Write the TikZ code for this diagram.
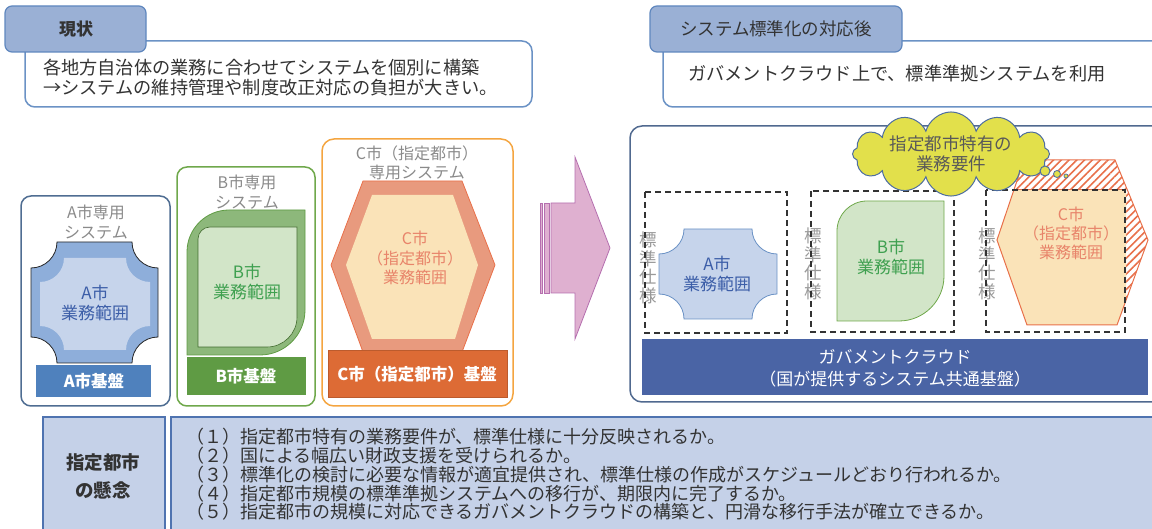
\documentclass[tikz,border=0pt]{standalone}
\usepackage{fontspec}
\setmainfont{Noto Sans CJK JP}
\usetikzlibrary{shapes.symbols,patterns.meta}

\definecolor{tabfill}{HTML}{9AB0D5}
\definecolor{tabline}{HTML}{5F87BE}
\definecolor{boxline}{HTML}{6B92C5}
\definecolor{frameA}{HTML}{4F6D92}
\definecolor{frameB}{HTML}{6FA84B}
\definecolor{frameC}{HTML}{F4A540}
\definecolor{frameR}{HTML}{50698F}
\definecolor{blueout}{HTML}{8EAEDA}
\definecolor{bluein}{HTML}{C6D4EB}
\definecolor{bluetext}{HTML}{3C5EA8}
\definecolor{baseA}{HTML}{4F81BD}
\definecolor{greenout}{HTML}{8DB87B}
\definecolor{greenin}{HTML}{D2E5C8}
\definecolor{greentext}{HTML}{3FA050}
\definecolor{baseB}{HTML}{5F9B44}
\definecolor{orangeout}{HTML}{E89A7E}
\definecolor{orangein}{HTML}{FAE3B8}
\definecolor{orangetext}{HTML}{E8846A}
\definecolor{orangeline}{HTML}{E8704A}
\definecolor{baseC}{HTML}{DD6B35}
\definecolor{cloudbase}{HTML}{4A64A5}
\definecolor{arrowfill}{HTML}{DFB0D0}
\definecolor{arrowline}{HTML}{B56FAF}
\definecolor{cloudfill}{HTML}{E2E04B}
\definecolor{cloudline}{HTML}{4D6DA0}
\definecolor{worryfill}{HTML}{C5D1E8}
\definecolor{worryline}{HTML}{4F73B0}
\definecolor{fadetext}{HTML}{8A8A8A}

% cross with concave corners: x0,y0,x1,y1,r
\newcommand{\cutcross}[5]{(#1+#5,#2) -- (#3-#5,#2)
  .. controls (#3-#5,#2+0.552*#5) and (#3-0.552*#5,#2+#5) .. (#3,#2+#5) -- (#3,#4-#5)
  .. controls (#3-0.552*#5,#4-#5) and (#3-#5,#4-0.552*#5) .. (#3-#5,#4) -- (#1+#5,#4)
  .. controls (#1+#5,#4-0.552*#5) and (#1+0.552*#5,#4-#5) .. (#1,#4-#5) -- (#1,#2+#5)
  .. controls (#1+0.552*#5,#2+#5) and (#1+#5,#2+0.552*#5) .. (#1+#5,#2) -- cycle}
% box with round top left and bottom right: x0,y0,x1,y1,r1,r2
\newcommand{\leafbox}[6]{(#1,#4) -- (#1,#2+#5)
  .. controls (#1,#2+0.448*#5) and (#1+0.448*#5,#2) .. (#1+#5,#2) -- (#3,#2) -- (#3,#4-#6)
  .. controls (#3,#4-0.448*#6) and (#3-0.448*#6,#4) .. (#3-#6,#4) -- cycle}

\tikzset{
  txt/.style={font=\fontsize{18.2}{20}\selectfont, text=black!80, inner sep=0pt},
  tabbox/.style={fill=tabfill, draw=tabline, line width=1.2pt, rounded corners=7pt},
  infobox/.style={fill=white, draw=boxline, line width=1.5pt, rounded corners=10pt},
  fade/.style={font=\fontsize{16}{19.5}\selectfont, text=fadetext, align=center, inner sep=0pt},
  scope label/.style={font=\fontsize{17}{19.5}\selectfont, align=center, inner sep=0pt},
  base label/.style={font=\bfseries\fontsize{16.5}{20}\selectfont, text=white, align=center, inner sep=0pt},
  specbox/.style={draw=black!80, line width=1.1pt, dash pattern=on 6pt off 4pt},
  spec/.style={font=\fontsize{17.5}{18.5}\selectfont, text=black!40, align=center, inner sep=0pt},
}

\begin{document}
\begin{tikzpicture}[x=1pt,y=-1pt]
  \useasboundingbox (0,0) rectangle (1152,529);

  % top left: current state
  \draw [infobox] (25,41) rectangle (532,107);
  \draw [tabbox] (5,6) rectangle (146,52);
  \node (now) [txt, font=\bfseries\fontsize{17}{20}\selectfont] at (76,29) {現状};
  \node (nowtext) [txt, anchor=west, align=left] at (43,78) {各地方自治体の業務に合わせてシステムを個別に構築\\→システムの維持管理や制度改正対応の負担が大きい。};

  % top right: after standardisation
  \draw [infobox] (663,41) rectangle (1175,107);
  \draw [tabbox] (650,6) rectangle (902,52);
  \node (after) [txt, font=\fontsize{17.5}{20}\selectfont] at (776,29) {システム標準化の対応後};
  \node (aftertext) [txt, anchor=west] at (688,74) {ガバメントクラウド上で、標準準拠システムを利用};

  % city A
  \draw [frameA, line width=1.5pt, rounded corners=10pt] (21,196) rectangle (170,406);
  \node (Asys) [fade] at (96,222) {A市専用\\システム};
  \draw [fill=blueout, draw=black!85, line width=0.8pt] \cutcross{31}{242}{158}{363}{26};
  \fill [bluein] \cutcross{40}{258}{150}{350}{24};
  \node (Ascope) [scope label, text=bluetext] at (95,303) {A市\\業務範囲};
  \fill [baseA] (36,365) rectangle (151,397);
  \node (Abase) [base label] at (94,381) {A市基盤};

  % city B
  \draw [frameB, line width=1.5pt, rounded corners=10pt] (177,167) rectangle (315,406);
  \node (Bsys) [fade] at (247,192) {B市専用\\システム};
  \draw [fill=greenout, draw=baseB, line width=0.8pt] \leafbox{187}{210}{305}{355}{42}{45};
  \draw [fill=greenin, draw=baseB!70!black, line width=0.6pt] \leafbox{198}{227}{297}{347}{12}{30};
  \node (Bscope) [scope label, text=greentext] at (247,282) {B市\\業務範囲};
  \fill [baseB] (187,357) rectangle (306,395);
  \node (Bbase) [base label] at (246,376) {B市基盤};

  % city C
  \draw [frameC, line width=1.5pt, rounded corners=12pt] (322,139) rectangle (513,406);
  \node (Csys) [fade] at (417,163) {C市（指定都市）\\専用システム};
  \draw [fill=orangeout, draw=orangeline, line width=0.8pt] (363,181) -- (462,181) -- (495,265) -- (462,352) -- (363,352) -- (331,265) -- cycle;
  \fill [orangein] (372,195) -- (453,195) -- (478,265) -- (455,339) -- (372,339) -- (346,265) -- cycle;
  \node (Cscope) [scope label, text=orangetext, font=\fontsize{16}{19.5}\selectfont] at (415,258) {C市\\（指定都市）\\業務範囲};
  \draw [fill=baseC, draw=baseC!85!black, line width=0.8pt] (328,350) rectangle (507,397);
  \node (Cbase) [base label] at (417,374) {C市（指定都市）基盤};

  % arrow
  \draw [fill=arrowfill, draw=arrowline, line width=0.8pt] (551,203) -- (575,203) -- (575,157) -- (610,248) -- (575,339) -- (575,293) -- (551,293) -- cycle;
  \draw [fill=arrowfill, draw=arrowline, line width=0.6pt] (540,203) rectangle (542.5,293);
  \draw [fill=arrowfill, draw=arrowline, line width=0.6pt] (544,203) rectangle (549,293);

  % right frame
  \draw [frameR, line width=1.5pt, rounded corners=12pt] (630,126) rectangle (1180,402);

  % standard A
  \node (Aspec) [spec] at (648,268) {標\\準\\仕\\様};
  \draw [fill=bluein, draw=boxline, line width=0.8pt] \cutcross{659}{229}{777}{319}{25};
  \node (Ascope2) [scope label, text=bluetext] at (717,274) {A市\\業務範囲};
  \draw [specbox] (645,192) rectangle (787,333);

  % standard B
  \node (Bspec) [spec] at (813,264) {標\\準\\仕\\様};
  \draw [fill=greenin, draw=frameB, line width=0.8pt] \leafbox{837}{201}{944}{321}{30}{45};
  \node (Bscope2) [scope label, text=greentext] at (891,257) {B市\\業務範囲};
  \draw [specbox] (811,191) rectangle (954,332);

  % standard C with extra requirements
  \node (Cspec) [spec] at (987,264) {標\\準\\仕\\様};
  \fill [white] (1024,160) -- (1115,160) -- (1148,240) -- (1117,325) -- (1027,325) -- (997,240) -- cycle;
  \fill [pattern={Lines[angle=45,distance=5.5pt,line width=1.6pt]}, pattern color=orangeline] (1024,160) -- (1115,160) -- (1148,240) -- (1117,325) -- (1027,325) -- (997,240) -- cycle;
  \begin{scope}
    \clip (990,190) rectangle (1126,330);
    \fill [orangein] (1024,160) -- (1115,160) -- (1148,240) -- (1117,325) -- (1027,325) -- (997,240) -- cycle;
  \end{scope}
  \draw [orangeline, line width=1pt] (1024,160) -- (1115,160) -- (1148,240) -- (1117,325) -- (1027,325) -- (997,240) -- cycle;
  \draw [orangeline, line width=1pt] (1015,190) -- (1126,190);
  \node (Cscope2) [scope label, text=orangetext, font=\fontsize{16}{19}\selectfont] at (1071,233) {C市\\（指定都市）\\業務範囲};
  \draw [specbox] (986,190) rectangle (1125,332);

  % thought cloud
  \node (wish) [cloud, cloud puffs=12, aspect=3.4, fill=cloudfill, draw=cloudline, line width=1pt,
    minimum width=197pt, minimum height=56pt, inner sep=0pt, align=center,
    font=\fontsize{17.5}{20}\selectfont, text=black!65] at (951,154) {指定都市特有の\\業務要件};
  \draw [fill=cloudfill, draw=cloudline, line width=1pt] (1045,171) circle [radius=5];
  \draw [fill=cloudfill, draw=cloudline, line width=0.8pt] (1057,174) circle [radius=3.5];
  \draw [fill=cloudfill, draw=cloudline, line width=0.7pt] (1066,176) circle [radius=2];

  % government cloud base
  \fill [cloudbase] (642,339) rectangle (1148,395);
  \node (gov) [base label, font=\fontsize{17}{22}\selectfont] at (895,368) {ガバメントクラウド\\（国が提供するシステム共通基盤）};

  % concerns
  \draw [fill=worryfill, draw=worryline, line width=1.5pt] (43,417) rectangle (165,540);
  \node (worry) [txt, font=\bfseries\fontsize{18.5}{28}\selectfont, align=center] at (103,476) {指定都市\\の懸念};
  \draw [fill=worryfill, draw=worryline, line width=1.5pt] (171,417) rectangle (1170,540);
  \node (worrylist) [txt, anchor=north west, align=left, font=\fontsize{18}{18.8}\selectfont] at (186,428)
    {（１）指定都市特有の業務要件が、標準仕様に十分反映されるか。\\
     （２）国による幅広い財政支援を受けられるか。\\
     （３）標準化の検討に必要な情報が適宜提供され、標準仕様の作成がスケジュールどおり行われるか。\\
     （４）指定都市規模の標準準拠システムへの移行が、期限内に完了するか。\\
     （５）指定都市の規模に対応できるガバメントクラウドの構築と、円滑な移行手法が確立できるか。};
\end{tikzpicture}
\end{document}
